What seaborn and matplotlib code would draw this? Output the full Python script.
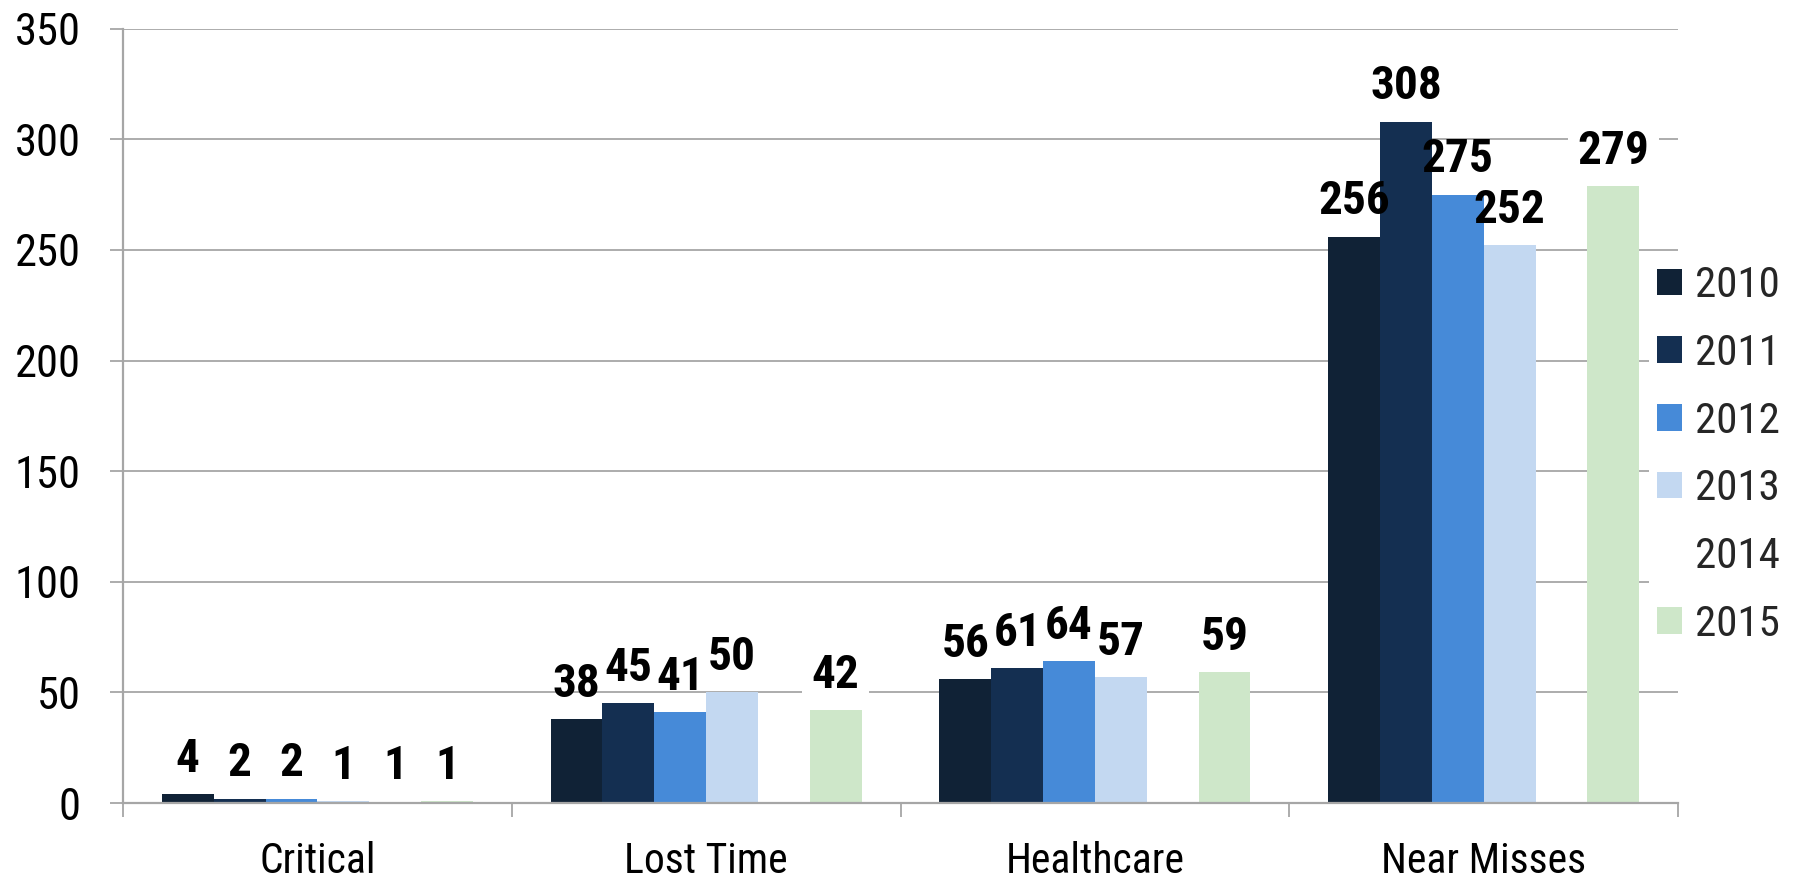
import numpy as np
import pandas as pd
import matplotlib
matplotlib.use("Agg")
import matplotlib.pyplot as plt
import seaborn as sns

# Incident counts by category and year
categories = ["Critical", "Lost Time", "Healthcare", "Near Misses"]
years = ["2010", "2011", "2012", "2013", "2014", "2015"]
values_2010 = [4, 38, 56, 256]
values_2011 = [2, 45, 61, 308]
values_2012 = [2, 41, 64, 275]
values_2013 = [1, 50, 57, 252]
values_2014 = [1, np.nan, np.nan, np.nan]
values_2015 = [1, 42, 59, 279]
y_ticks = [0, 50, 100, 150, 200, 250, 300, 350]

series = [values_2010, values_2011, values_2012, values_2013, values_2014, values_2015]
df = pd.DataFrame(
    [(cat, yr, v) for yr, vals in zip(years, series) for cat, v in zip(categories, vals)],
    columns=["category", "year", "count"],
)

palette = {
    "2010": "#102236",
    "2011": "#142F51",
    "2012": "#468AD8",
    "2013": "#C3D8F1",
    "2014": "#FFFFFF",
    "2015": "#CEE7C9",
}

sns.set_style("white")
plt.rcParams["font.family"] = ["Roboto Condensed", "DejaVu Sans"]

grey = "#A6A6A6"
fig = plt.figure(figsize=(17.98, 8.80), dpi=100)
ax = fig.add_axes([0.0684, 0.0875, 0.8649, 0.8799])

sns.barplot(
    data=df, x="category", y="count", hue="year", order=categories,
    hue_order=years, palette=palette, width=0.8, linewidth=0,
    edgecolor="none", saturation=1, errorbar=None, ax=ax,
)

ax.set_xlim(-0.5, len(categories) - 0.5)
ax.set_ylim(0, 350)
ax.set_yticks(y_ticks)
ax.set_xlabel("")
ax.set_ylabel("")

# gridlines behind the bars
ax.set_axisbelow(True)
ax.yaxis.grid(True, color=grey, linewidth=1.3)
ax.xaxis.grid(False)

for side in ["top", "right"]:
    ax.spines[side].set_visible(False)
for side in ["left", "bottom"]:
    ax.spines[side].set_color(grey)
    ax.spines[side].set_linewidth(1.6)

# y ticks pointing out to the left
ax.tick_params(axis="y", which="major", direction="out", length=9.5, width=1.3,
               color=grey, pad=21, labelsize=32, labelcolor="black", left=True)
# category separators as minor ticks on x
ax.set_xticks(np.arange(-0.5, len(categories), 1.0), minor=True)
ax.tick_params(axis="x", which="minor", direction="out", length=10, width=1.3,
               color=grey, bottom=True)
ax.tick_params(axis="x", which="major", length=0, pad=27, labelsize=30,
               labelcolor="black")

# value labels above each bar; the 2015 labels sit on a white box
for container, yr in zip(ax.containers, years):
    for bar in container:
        h = bar.get_height()
        if h is None or np.isnan(h):
            continue
        cx = bar.get_x() + bar.get_width() / 2
        kw = {}
        if yr == "2015":
            kw["bbox"] = dict(boxstyle="square,pad=0.2", facecolor="white",
                              edgecolor="none")
        ax.annotate(f"{int(round(h))}", xy=(cx, h), xytext=(0, 16),
                    textcoords="offset points", ha="center", va="baseline",
                    fontsize=34, fontweight="bold", color="black", **kw)

handles, labels = ax.get_legend_handles_labels()
if ax.get_legend() is not None:
    ax.get_legend().remove()
leg = fig.legend(
    handles, labels, loc="center left", bbox_to_anchor=(0.917, 0.483),
    fontsize=31, frameon=True, facecolor="white", edgecolor="none",
    framealpha=1, fancybox=False, borderpad=0.2, borderaxespad=0,
    handlelength=0.58, handleheight=0.58, handletextpad=0.3, labelspacing=0.62,
)

fig.savefig("out.png", dpi=100, facecolor="white")
